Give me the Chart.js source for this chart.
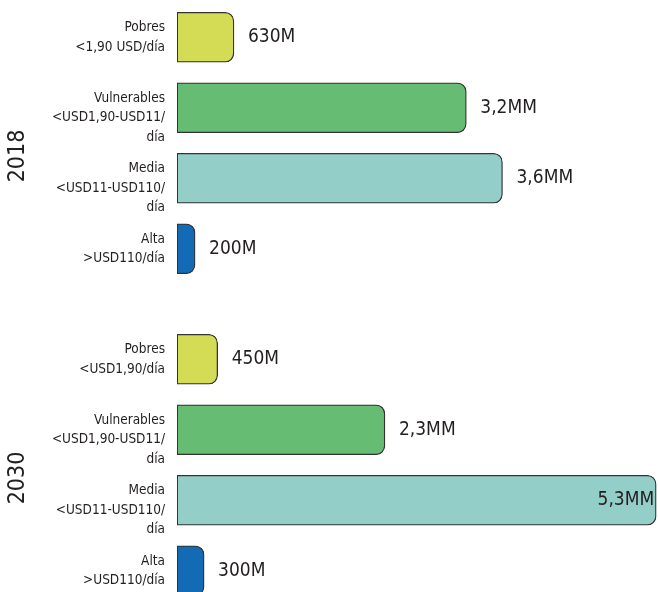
<!DOCTYPE html>
<html lang="es">
<head>
    <meta charset="UTF-8">
    <title>Clases de ingreso 2018 y 2030</title>
    <script src="https://cdn.jsdelivr.net/npm/chart.js@4.4.1/dist/chart.umd.min.js"></script>
    <style>
        html, body { margin: 0; padding: 0; background: #fff; overflow: hidden; }
        .wrap { position: absolute; left: 0; width: 658px; height: 284px; }
        #w2018 { top: 0; }
        #w2030 { top: 322px; }
    </style>
</head>
<body>
    <div class="wrap" id="w2018"><canvas id="c2018"></canvas></div>
    <div class="wrap" id="w2030"><canvas id="c2030"></canvas></div>

    <script>
        // categorías (cada línea del rótulo es un elemento)
        const labels2018 = [
            ["Pobres", "<1,90 USD/día"],
            ["Vulnerables", "<USD1,90-USD11/", "día"],
            ["Media", "<USD11-USD110/", "día"],
            ["Alta", ">USD110/día"]
        ];
        const labels2030 = [
            ["Pobres", "<USD1,90/día"],
            ["Vulnerables", "<USD1,90-USD11/", "día"],
            ["Media", "<USD11-USD110/", "día"],
            ["Alta", ">USD110/día"]
        ];

        // personas, en miles de millones
        const values2018 = [0.63, 3.2, 3.6, 0.2];
        const values2030 = [0.45, 2.3, 5.3, 0.3];

        const text2018 = ["630M", "3,2MM", "3,6MM", "200M"];
        const text2030 = ["450M", "2,3MM", "5,3MM", "300M"];

        const colors = ["#d4db55", "#65bc72", "#94cec8", "#136bb6"];

        const FONT = "'DejaVu Sans Condensed', 'DejaVu Sans', sans-serif";
        const INK = "#231f20";

        // valores al final de cada barra; si no cabe, dentro a la derecha
        const valueLabels = {
            id: 'valueLabels',
            afterDatasetsDraw(chart, args, opts) {
                const ctx = chart.ctx;
                const meta = chart.getDatasetMeta(0);
                ctx.save();
                ctx.font = "19px " + FONT;
                ctx.fillStyle = INK;
                ctx.textBaseline = 'middle';
                meta.data.forEach((bar, i) => {
                    const t = opts.texts[i];
                    const w = ctx.measureText(t).width;
                    if (bar.x + 14 + w > chart.chartArea.right) {
                        ctx.textAlign = 'right';
                        ctx.fillText(t, bar.x - 2, bar.y);
                    } else {
                        ctx.textAlign = 'left';
                        ctx.fillText(t, bar.x + 14, bar.y);
                    }
                });
                ctx.restore();
            }
        };

        // año en vertical a la izquierda
        const yearLabel = {
            id: 'yearLabel',
            afterDraw(chart, args, opts) {
                const ctx = chart.ctx;
                const a = chart.chartArea;
                ctx.save();
                ctx.translate(18, (a.top + a.bottom) / 2 + 13);
                ctx.rotate(-Math.PI / 2);
                ctx.font = "23px " + FONT;
                ctx.fillStyle = INK;
                ctx.textAlign = 'center';
                ctx.textBaseline = 'middle';
                ctx.fillText(opts.text, 0, 0);
                ctx.restore();
            }
        };

        function makeChart(id, year, labels, values, texts) {
            return new Chart(document.getElementById(id), {
                type: 'bar',
                data: {
                    labels: labels,
                    datasets: [{
                        data: values,
                        backgroundColor: colors,
                        borderColor: '#333333',
                        borderWidth: 1.3,
                        borderSkipped: false,
                        borderRadius: { topLeft: 0, bottomLeft: 0, topRight: 9, bottomRight: 9 },
                        barThickness: 50
                    }]
                },
                options: {
                    indexAxis: 'y',
                    responsive: true,
                    maintainAspectRatio: false,
                    animation: false,
                    layout: { padding: { top: 2, right: 0, bottom: 0, left: 0 } },
                    plugins: {
                        legend: { display: false },
                        tooltip: { enabled: false },
                        valueLabels: { texts: texts },
                        yearLabel: { text: year }
                    },
                    scales: {
                        x: { display: false, min: 0, max: 5.32 },
                        y: {
                            grid: { display: false, drawTicks: false },
                            border: { display: false },
                            afterFit(scale) {
                                scale.width = 177;
                                // los rótulos altos no deben encoger el área del gráfico
                                scale.paddingTop = 0;
                                scale.paddingBottom = 0;
                            },
                            ticks: {
                                autoSkip: false,
                                padding: 12,
                                color: INK,
                                font: { family: FONT, size: 13.5, lineHeight: '19.5px' },
                                // los rótulos de tres líneas arrancan a la misma altura que los de dos
                                callback(value) {
                                    const lab = this.getLabelForValue(value);
                                    return lab.length > 2 ? [""].concat(lab) : lab;
                                }
                            }
                        }
                    }
                },
                plugins: [valueLabels, yearLabel]
            });
        }

        makeChart('c2018', "2018", labels2018, values2018, text2018);
        makeChart('c2030', "2030", labels2030, values2030, text2030);
    </script>
</body>
</html>
